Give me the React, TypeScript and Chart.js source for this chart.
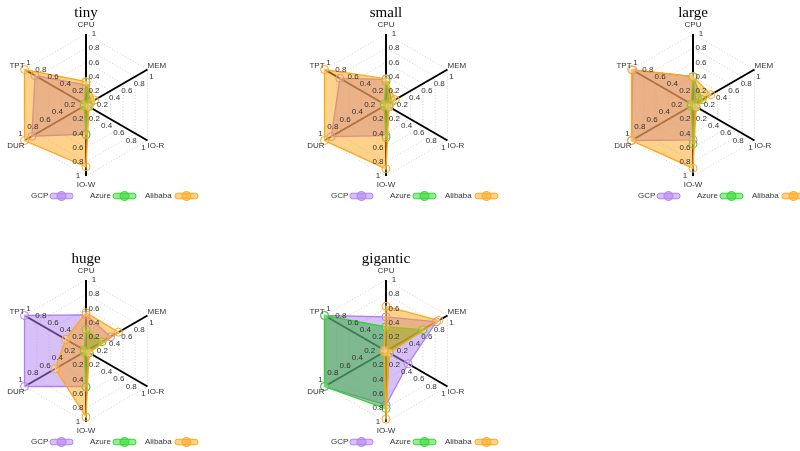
import React, { useEffect, useRef } from 'react';
import { Chart, registerables } from 'chart.js';

Chart.register(...registerables);

// ---------- data ----------
const categories = ['CPU', 'MEM', 'IO-R', 'IO-W', 'DUR', 'TPT'];
const seriesNames = ['GCP', 'Azure', 'Alibaba'];
const tickValues = [0.2, 0.4, 0.6, 0.8, 1];
const tickLabels = ['0.2', '0.4', '0.6', '0.8', '1'];
const chartTitles = ['tiny', 'small', 'large', 'huge', 'gigantic'];

const tinyGCP = [0.28, 0.05, 0.04, 0.41, 0.88, 0.83];
const tinyAzure = [0.32, 0.08, 0.03, 0.42, 0.03, 0.03];
const tinyAlibaba = [0.33, 0.14, 0.05, 0.87, 1.0, 1.0];

const smallGCP = [0.36, 0.05, 0.04, 0.43, 0.89, 0.75];
const smallAzure = [0.33, 0.1, 0.05, 0.46, 0.03, 0.03];
const smallAlibaba = [0.37, 0.15, 0.05, 0.9, 1.0, 1.0];

const largeGCP = [0.4, 0.05, 0.04, 0.49, 1.0, 0.98];
const largeAzure = [0.4, 0.15, 0.05, 0.55, 0.03, 0.03];
const largeAlibaba = [0.4, 0.29, 0.05, 0.89, 1.0, 1.0];

const hugeGCP = [0.51, 0.4, 0.05, 0.5, 1.0, 1.0];
const hugeAzure = [0.3, 0.26, 0.05, 0.51, 0.03, 0.03];
const hugeAlibaba = [0.54, 0.53, 0.05, 0.93, 0.5, 0.33];

const giganticGCP = [0.48, 0.82, 0.36, 0.76, 1.0, 1.0];
const giganticAzure = [0.34, 0.6, 0.05, 0.81, 1.0, 1.0];
const giganticAlibaba = [0.63, 0.86, 0.05, 0.96, 0.03, 0.03];

const chartValues = [
  [tinyGCP, tinyAzure, tinyAlibaba],
  [smallGCP, smallAzure, smallAlibaba],
  [largeGCP, largeAzure, largeAlibaba],
  [hugeGCP, hugeAzure, hugeAlibaba],
  [giganticGCP, giganticAzure, giganticAlibaba],
];

// ---------- styles / layout ----------
const seriesBorder = ['rgb(176,128,240)', 'rgb(45,215,45)', 'rgb(255,166,25)'];
const seriesFill = ['rgba(176,128,240,0.5)', 'rgba(40,180,40,0.5)', 'rgba(255,166,25,0.5)'];
const legendFill = ['rgba(176,128,240,0.5)', 'rgba(45,215,45,0.5)', 'rgba(255,166,25,0.5)'];

const panelCenters = [
  { cx: 86, cy: 105 },
  { cx: 386, cy: 105 },
  { cx: 693, cy: 105 },
  { cx: 86, cy: 351 },
  { cx: 386, cy: 351 },
];
const R = 71;
const CW = 260;
const CH = 204;
const OX = 130; // center x in canvas
const OY = 104; // center y in canvas
const legendTextOffsets = [-55, 4, 59];
const legendIconOffsets = [-36, 27, 89];

const SANS = '"Liberation Sans", Arial, sans-serif';
const SERIF = '"Liberation Serif", "Times New Roman", serif';

function makeOverlay(title: string) {
  return {
    id: 'overlay' + title,
    afterDraw(chart: any) {
      const ctx: CanvasRenderingContext2D = chart.ctx;
      const scale = chart.scales.r;
      ctx.save();
      // tick labels along every axis
      ctx.font = '8px ' + SANS;
      ctx.fillStyle = '#333';
      ctx.textAlign = 'center';
      ctx.textBaseline = 'middle';
      categories.forEach((_, i) => {
        const o = scale.getPointPositionForValue(i, 0);
        const e = scale.getPointPositionForValue(i, 1);
        const dx = e.x - o.x;
        const dy = e.y - o.y;
        const len = Math.hypot(dx, dy) || 1;
        const ux = dx / len;
        const uy = dy / len;
        const px = -uy;
        const py = ux;
        tickValues.forEach((v, k) => {
          const p = scale.getPointPositionForValue(i, v);
          ctx.fillText(tickLabels[k], p.x + px * 8, p.y + py * 8);
        });
      });
      // axis names
      categories.forEach((name, i) => {
        const o = scale.getPointPositionForValue(i, 0);
        const e = scale.getPointPositionForValue(i, 1);
        const ux = e.x - o.x;
        const uy = e.y - o.y;
        if (Math.abs(ux) < 1) {
          ctx.textAlign = 'center';
          ctx.fillText(name, e.x, e.y + (uy < 0 ? -9 : 9));
        } else {
          ctx.textAlign = ux > 0 ? 'left' : 'right';
          ctx.fillText(name, e.x, e.y + (uy < 0 ? -3.5 : 5));
        }
      });
      // title
      ctx.font = '15px ' + SERIF;
      ctx.fillStyle = '#000';
      ctx.textAlign = 'center';
      ctx.textBaseline = 'alphabetic';
      ctx.fillText(title, scale.xCenter, scale.yCenter - 88);
      // legend
      const ly = scale.yCenter + 91;
      ctx.font = '8px ' + SANS;
      ctx.textBaseline = 'middle';
      ctx.textAlign = 'left';
      seriesNames.forEach((name, s) => {
        ctx.fillStyle = '#333';
        ctx.fillText(name, scale.xCenter + legendTextOffsets[s], ly);
        const ix = scale.xCenter + legendIconOffsets[s];
        ctx.fillStyle = legendFill[s];
        ctx.strokeStyle = seriesBorder[s];
        ctx.lineWidth = 1;
        ctx.beginPath();
        if ((ctx as any).roundRect) {
          (ctx as any).roundRect(ix, ly - 2.75, 23, 5.5, 2.5);
        } else {
          ctx.rect(ix, ly - 2.75, 23, 5.5);
        }
        ctx.fill();
        ctx.stroke();
        ctx.beginPath();
        ctx.arc(ix + 11.5, ly, 4.5, 0, Math.PI * 2);
        ctx.fill();
        ctx.stroke();
      });
      ctx.restore();
    },
  };
}

function RadarPanel({ index }: { index: number }) {
  const ref = useRef<HTMLCanvasElement | null>(null);
  useEffect(() => {
    if (!ref.current) return;
    const values = chartValues[index];
    const chart = new Chart(ref.current, {
      type: 'radar',
      data: {
        labels: categories,
        datasets: seriesNames.map((name, s) => ({
          label: name,
          data: values[s],
          borderColor: seriesBorder[s],
          backgroundColor: seriesFill[s],
          borderWidth: 1.3,
          fill: true,
          pointRadius: 4,
          pointBorderWidth: 1,
          pointBackgroundColor: 'rgba(255,255,255,0.25)',
          pointBorderColor: seriesBorder[s],
          order: 2 - s,
        })),
      },
      options: {
        responsive: false,
        maintainAspectRatio: false,
        animation: false,
        layout: {
          padding: { left: OX - R, right: CW - (OX - R) - 2 * R, top: OY - R, bottom: CH - (OY - R) - 2 * R },
        },
        plugins: {
          legend: { display: false },
          tooltip: { enabled: false },
          title: { display: false },
        },
        scales: {
          r: {
            min: 0,
            max: 1,
            ticks: { display: false, stepSize: 0.2 },
            pointLabels: { display: false },
            angleLines: { color: '#000', lineWidth: 2 },
            grid: { color: '#d0d0d0', lineWidth: 1 },
            border: { dash: [1, 2] },
          },
        },
      } as any,
      plugins: [makeOverlay(chartTitles[index])],
    });
    return () => chart.destroy();
  }, [index]);
  const c = panelCenters[index];
  return (
    <canvas
      ref={ref}
      width={CW}
      height={CH}
      style={{ position: 'absolute', left: c.cx - OX, top: c.cy - OY, width: CW, height: CH }}
    />
  );
}

export default function App() {
  return (
    <div
      style={{
        position: 'absolute',
        left: 0,
        top: 0,
        width: 800,
        height: 451,
        overflow: 'hidden',
        background: '#fff',
      }}
    >
      {chartTitles.map((_, i) => (
        <RadarPanel key={i} index={i} />
      ))}
    </div>
  );
}
